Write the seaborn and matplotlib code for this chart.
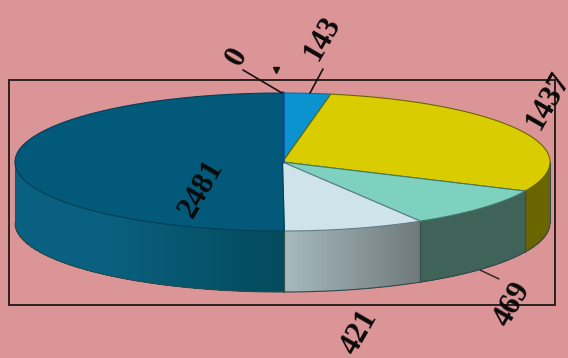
import numpy as np
import matplotlib
matplotlib.use("Agg")
import matplotlib.pyplot as plt
import seaborn as sns

# data
labels = ["0", "143", "1437", "469", "421", "2481"]
values = [0, 143, 1437, 469, 421, 2481]
top_colors = ["#0A4F8A", "#0B93D0", "#D9CC00", "#7FD1BF", "#CFE4EA", "#03597A"]
side_start = ["#0A4F8A", "#0B93D0", "#6B6500", "#3F6259", "#70797B", "#034A5C"]
side_end = ["#0A4F8A", "#0B93D0", "#6B6500", "#3F6259", "#A5B8BC", "#0A6080"]
edge_colors = ["#0A4F8A", "#0A6F9F", "#6B6500", "#3F7A6C", "#5F7F88", "#023F55"]

BG = "#DC9596"
sns.set_theme(style="white", rc={"figure.facecolor": BG, "axes.facecolor": BG})
palette = sns.color_palette(top_colors)

fig = plt.figure(figsize=(5.68, 3.58), dpi=100)
ax = fig.add_axes([0, 0, 1, 1])
ax.set_xlim(0, 568)
ax.set_ylim(358, 0)
ax.axis("off")

CX, CY, RX, RY, DEPTH = 282.5, 162, 267.5, 69, 61


def rim(th, dy=0.0):
    return CX + RX * np.sin(th), CY - RY * np.cos(th) + dy


# frame
ax.add_patch(plt.Rectangle((9, 80), 546, 225, fill=False, ec="#2B2020", lw=1.4, zorder=1))

cum = np.concatenate([[0], np.cumsum(values)]) / np.sum(values) * 2 * np.pi

# side walls (front half only); each strip runs on to the slice's end, so no seams show
for i in range(len(values)):
    a, b = max(cum[i], np.pi / 2), min(cum[i + 1], 3 * np.pi / 2)
    if b <= a:
        continue
    n = max(int(np.degrees(b - a)), 1)
    edges = np.linspace(a, b, n + 1)
    c0 = np.array(matplotlib.colors.to_rgb(side_start[i]))
    c1 = np.array(matplotlib.colors.to_rgb(side_end[i]))
    for k in range(n):
        t = k / max(n - 1, 1)
        if i == 5:
            t = min(t / 0.45, 1.0)
        th = np.linspace(edges[k], b, max(3, (n - k) * 2))
        x, y = rim(th)
        xb, yb = rim(th, DEPTH)
        col = c0 * (1 - t) + c1 * t
        ax.fill(np.r_[x, xb[::-1]], np.r_[y, yb[::-1]], color=col, lw=0, zorder=2)
    th = np.linspace(a, b, 100)
    x, yb = rim(th, DEPTH)
    ax.plot(x, yb, color="#2E4A4A", lw=0.8, zorder=3)
    for ang in (a, b):
        x0, y0 = rim(ang)
        ax.plot([x0, x0], [y0, y0 + DEPTH], color="#33504E", lw=0.8, zorder=3)

# top faces
for i in range(len(values)):
    a, b = cum[i], cum[i + 1]
    if b - a < 1e-6:
        continue
    th = np.linspace(a, b, 200)
    x, y = rim(th)
    ax.fill(np.r_[CX, x], np.r_[CY, y], facecolor=palette[i], edgecolor=edge_colors[i],
            lw=0.8, joinstyle="round", zorder=4)

# zero-sized slice drawn as a sliver
x0, y0 = rim(cum[0])
ax.plot([CX, x0], [CY, y0], color=palette[0], lw=2.6, zorder=5)

# leader lines
ax.plot([243, 282], [70, 93], color="#1A1010", lw=1.2, zorder=6)
ax.plot([323, 310], [69, 93], color="#1A1010", lw=1.2, zorder=6)
ax.plot([480, 499], [270, 279], color="#2A2020", lw=1.0, zorder=1.5)
ax.plot([276], [69.5], marker="v", ms=4, color="#1A1010", zorder=6)

# labels
label_pos = [(237, 57), (322, 38), (548, 101), (513, 304), (360, 332), (202, 189)]
for s, (x, y) in zip(labels, label_pos):
    ax.text(x, y, s, rotation=60, ha="center", va="center", color="#0A0A0A",
            family="Liberation Serif", weight="bold", fontsize=22,
            rotation_mode="anchor", zorder=8)

fig.savefig("out.png", dpi=100, facecolor=BG)
